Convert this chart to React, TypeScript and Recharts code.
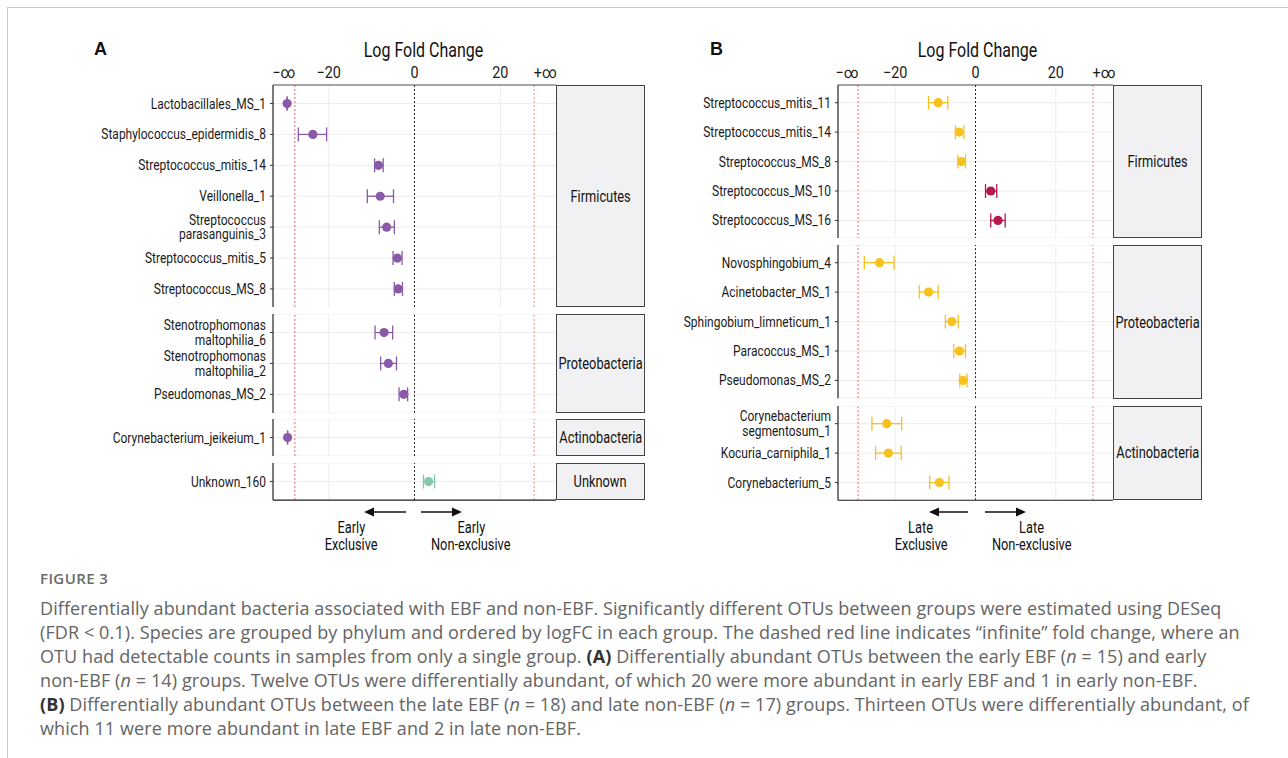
import React from 'react'
import {
  ScatterChart,
  Scatter,
  XAxis,
  YAxis,
  CartesianGrid,
  ReferenceLine,
  ErrorBar,
} from 'recharts'

// ---- Panel A: early EBF vs early non-EBF ----
const namesA = [
  'Lactobacillales_MS_1',
  'Staphylococcus_epidermidis_8',
  'Streptococcus_mitis_14',
  'Veillonella_1',
  'Streptococcus\nparasanguinis_3',
  'Streptococcus_mitis_5',
  'Streptococcus_MS_8',
  'Stenotrophomonas\nmaltophilia_6',
  'Stenotrophomonas\nmaltophilia_2',
  'Pseudomonas_MS_2',
  'Corynebacterium_jeikeium_1',
  'Unknown_160',
]
const phylaA = [
  'Firmicutes', 'Firmicutes', 'Firmicutes', 'Firmicutes', 'Firmicutes', 'Firmicutes', 'Firmicutes',
  'Proteobacteria', 'Proteobacteria', 'Proteobacteria',
  'Actinobacteria',
  'Unknown',
]
const lfcA = [-29.7, -23.7, -8.4, -8.0, -6.5, -4.0, -3.8, -7.1, -6.1, -2.5, -29.6, 3.3]
const lowA = [-29.7, -27.1, -9.3, -11.0, -8.2, -5.0, -4.7, -9.2, -7.9, -3.6, -29.6, 2.1]
const highA = [-29.7, -20.5, -7.3, -4.9, -4.7, -2.9, -2.8, -5.1, -4.2, -1.6, -29.6, 4.7]
const orderA = ['Firmicutes', 'Proteobacteria', 'Actinobacteria', 'Unknown']

// ---- Panel B: late EBF vs late non-EBF ----
const namesB = [
  'Streptococcus_mitis_11',
  'Streptococcus_mitis_14',
  'Streptococcus_MS_8',
  'Streptococcus_MS_10',
  'Streptococcus_MS_16',
  'Novosphingobium_4',
  'Acinetobacter_MS_1',
  'Sphingobium_limneticum_1',
  'Paracoccus_MS_1',
  'Pseudomonas_MS_2',
  'Corynebacterium\nsegmentosum_1',
  'Kocuria_carniphila_1',
  'Corynebacterium_5',
]
const phylaB = [
  'Firmicutes', 'Firmicutes', 'Firmicutes', 'Firmicutes', 'Firmicutes',
  'Proteobacteria', 'Proteobacteria', 'Proteobacteria', 'Proteobacteria', 'Proteobacteria',
  'Actinobacteria', 'Actinobacteria', 'Actinobacteria',
]
const lfcB = [-9.3, -4.1, -3.5, 3.8, 5.6, -23.9, -11.7, -5.9, -4.0, -3.1, -22.1, -21.7, -9.0]
const lowB = [-11.7, -5.0, -4.4, 2.5, 3.8, -27.7, -14.0, -7.5, -5.4, -3.9, -25.8, -24.9, -11.4]
const highB = [-6.9, -2.9, -2.5, 5.3, 7.4, -20.3, -9.3, -4.3, -2.5, -2.1, -18.4, -18.5, -6.6]
const orderB = ['Firmicutes', 'Proteobacteria', 'Actinobacteria']

const xTickLabels = ['\u2212\u221e', '\u221220', '0', '20', '+\u221e']

// no condensed face is installed, so Roboto is squeezed horizontally
const FONT = 'Roboto, "Liberation Sans", sans-serif'
const SQUEEZE = 0.8

type Row = { name: string; x: number; y: number; err: [number, number]; color: string }
type Facet = { phylum: string; rows: Row[] }

function buildFacets(
  names: string[], phyla: string[], lfc: number[], low: number[], high: number[],
  order: string[], neg: string, pos: string,
): Facet[] {
  return order.map((ph) => {
    const idx = names.map((_, i) => i).filter((i) => phyla[i] === ph)
    const rows = idx.map((i, k) => ({
      name: names[i],
      x: lfc[i],
      y: k,
      err: [lfc[i] - low[i], high[i] - lfc[i]] as [number, number],
      color: lfc[i] < 0 ? neg : pos,
    }))
    return { phylum: ph, rows }
  })
}

interface Panel {
  letter: string
  letterX: number
  chartLeft: number
  plotLeft: number
  plotRight: number
  stripRight: number
  half: number
  inf: number
  red: number
  unit: number
  gap: number
  titleDx: number
  facets: Facet[]
}

const panelA: Panel = {
  letter: 'A', letterX: 94, chartLeft: 70, plotLeft: 273, plotRight: 556, stripRight: 645,
  half: 33, inf: 30.5, red: 27.9, unit: 30.9, gap: 6.5, titleDx: 9,
  facets: buildFacets(namesA, phylaA, lfcA, lowA, highA, orderA, '#8a5aa8', '#84c9ac'),
}
const panelB: Panel = {
  letter: 'B', letterX: 710, chartLeft: 668, plotLeft: 838, plotRight: 1113, stripRight: 1202,
  half: 34.25, inf: 32, red: 29.25, unit: 29.45, gap: 7.3, titleDx: 2,
  facets: buildFacets(namesB, phylaB, lfcB, lowB, highB, orderB, '#f8c21e', '#b5184f'),
}

const PLOT_TOP = 85
const AXIS_H = 55
const RIGHT_PAD = 14

function RowTick(props: any) {
  const { x, y, payload, names } = props
  const label: string = names[payload.value] ?? ''
  const lines = label.split('\n')
  const step = 14.5
  const first = -((lines.length - 1) * step) / 2 + 5
  return (
    <g transform={`translate(${x},${y}) scale(0.857,1)`}>
      <text x={0} y={0} textAnchor="end" fontSize={14} fill="#1a1a1a" fontFamily={FONT}>
        {lines.map((l, i) => (
          <tspan key={i} x={0} dy={i === 0 ? first : step}>{l}</tspan>
        ))}
      </text>
    </g>
  )
}

function TopTick(props: any) {
  const { x, y, index } = props
  return (
    <g transform={`translate(${x},${y - 1}) scale(0.9,1)`}>
      <text x={0} y={0} textAnchor="middle" fontSize={16} fill="#1a1a1a" fontFamily={FONT}>
        {xTickLabels[index]}
      </text>
    </g>
  )
}

function TitleLabel(props: any) {
  const { viewBox, dx } = props
  const cx = viewBox.x + viewBox.width / 2 + dx
  return (
    <g transform={`translate(${cx},${viewBox.y + 27}) scale(${SQUEEZE},1)`}>
      <text x={0} y={0} textAnchor="middle" fontSize={20} fill="#111" fontFamily={FONT}>
        Log Fold Change
      </text>
    </g>
  )
}

function FacetChart({ panel, facet, top, height, first, last }: {
  panel: Panel; facet: Facet; top: number; height: number; first: boolean; last: boolean
}) {
  const n = facet.rows.length
  const axisH = first ? AXIS_H : 0
  const botH = last ? 2 : 0
  const colors = Array.from(new Set(facet.rows.map((r) => r.color)))
  const names = facet.rows.map((r) => r.name)
  const xTicks = [-panel.inf, -20, 0, 20, panel.inf]
  return (
    <div style={{ position: 'absolute', left: panel.chartLeft, top: top - axisH }}>
      <ScatterChart
        width={panel.plotRight - panel.chartLeft + RIGHT_PAD}
        height={height + axisH + botH}
        margin={{ top: 0, right: RIGHT_PAD, bottom: 0, left: 0 }}
      >
        <CartesianGrid vertical={false} stroke="#ededed" />
        {first ? (
          <XAxis
            type="number"
            dataKey="x"
            domain={[-panel.half, panel.half]}
            allowDataOverflow
            ticks={xTicks}
            interval={0}
            orientation="top"
            height={AXIS_H}
            tickSize={0}
            tickMargin={6}
            tickLine={false}
            axisLine={{ stroke: '#555', strokeWidth: 1.2 }}
            tick={<TopTick />}
            label={<TitleLabel dx={panel.titleDx} />}
          />
        ) : last ? (
          <XAxis
            type="number"
            dataKey="x"
            domain={[-panel.half, panel.half]}
            allowDataOverflow
            orientation="bottom"
            height={2}
            tick={false}
            tickLine={false}
            axisLine={{ stroke: '#222', strokeWidth: 1.2 }}
          />
        ) : (
          <XAxis type="number" dataKey="x" domain={[-panel.half, panel.half]} allowDataOverflow hide />
        )}
        <YAxis
          type="number"
          dataKey="y"
          domain={[-0.6, n - 0.4]}
          allowDataOverflow
          reversed
          ticks={facet.rows.map((r) => r.y)}
          interval={0}
          width={panel.plotLeft - panel.chartLeft}
          tickSize={3}
          tickMargin={4}
          tickLine={{ stroke: '#333' }}
          axisLine={{ stroke: '#222', strokeWidth: 1.2 }}
          tick={(p: any) => <RowTick {...p} names={names} />}
        />
        <ReferenceLine x={-20} stroke="#ededed" />
        <ReferenceLine x={20} stroke="#ededed" />
        <ReferenceLine x={0} stroke="#222" strokeDasharray="2 2" />
        <ReferenceLine x={-panel.red} stroke="#e56464" strokeDasharray="2 2" />
        <ReferenceLine x={panel.red} stroke="#e58a8a" strokeDasharray="2 2" />
        {colors.map((c) => (
          <Scatter
            key={c}
            data={facet.rows.filter((r) => r.color === c)}
            fill={c}
            isAnimationActive={false}
            shape={(p: any) => <circle cx={p.cx} cy={p.cy} r={4.6} fill={c} />}
          >
            <ErrorBar dataKey="err" direction="x" width={7} stroke={c} strokeWidth={1.3} />
          </Scatter>
        ))}
      </ScatterChart>
    </div>
  )
}

function Squeezed({ children, size }: { children: React.ReactNode; size: number }) {
  return (
    <span
      style={{
        display: 'inline-block', transform: `scaleX(${SQUEEZE})`, fontFamily: FONT, fontSize: size,
        whiteSpace: 'nowrap',
      }}
    >
      {children}
    </span>
  )
}

function PanelView({ panel }: { panel: Panel }) {
  let y = PLOT_TOP
  const items = panel.facets.map((f, i) => {
    const h = (f.rows.length - 1 + 1.2) * panel.unit
    const top = y
    y += h + panel.gap
    return { f, top, h, i }
  })
  return (
    <>
      <div
        style={{
          position: 'absolute', left: panel.letterX, top: 39, fontFamily: '"Liberation Sans", Arial, sans-serif',
          fontWeight: 700, fontSize: 18, color: '#111',
        }}
      >
        {panel.letter}
      </div>
      {items.map(({ f, top, h, i }) => (
        <React.Fragment key={f.phylum}>
          <FacetChart
            panel={panel}
            facet={f}
            top={top}
            height={h}
            first={i === 0}
            last={i === items.length - 1}
          />
          <div
            style={{
              position: 'absolute',
              left: panel.plotRight,
              top,
              width: panel.stripRight - panel.plotRight,
              height: h,
              boxSizing: 'border-box',
              border: '1.3px solid #444',
              background: '#f1f1f3',
              display: 'flex',
              alignItems: 'center',
              justifyContent: 'center',
              color: '#111',
            }}
          >
            <Squeezed size={16}>{f.phylum}</Squeezed>
          </div>
        </React.Fragment>
      ))}
    </>
  )
}

function Arrows({ cx, leftEnd, rightEnd, gapL, gapR, word, textL, textR }: {
  cx: number; leftEnd: number; rightEnd: number; gapL: number; gapR: number; word: string; textL: number; textR: number
}) {
  const ay = 512
  return (
    <>
      <svg style={{ position: 'absolute', left: 0, top: 0 }} width={1288} height={758} pointerEvents="none">
        <line x1={cx - gapL} y1={ay} x2={leftEnd + 8} y2={ay} stroke="#111" strokeWidth={1.5} />
        <polygon points={`${leftEnd},${ay} ${leftEnd + 10},${ay - 4.5} ${leftEnd + 10},${ay + 4.5}`} fill="#111" />
        <line x1={cx + gapR} y1={ay} x2={rightEnd - 8} y2={ay} stroke="#111" strokeWidth={1.5} />
        <polygon points={`${rightEnd},${ay} ${rightEnd - 10},${ay - 4.5} ${rightEnd - 10},${ay + 4.5}`} fill="#111" />
      </svg>
      {[
        { x: textL, lines: [word, 'Exclusive'] },
        { x: textR, lines: [word, 'Non-exclusive'] },
      ].map((t) => (
        <div
          key={t.x}
          style={{
            position: 'absolute', left: t.x - 60, width: 120, top: 519, textAlign: 'center',
            lineHeight: '17px', color: '#111',
          }}
        >
          <Squeezed size={16}>{t.lines[0]}</Squeezed>
          <br />
          <Squeezed size={16}>{t.lines[1]}</Squeezed>
        </div>
      ))}
    </>
  )
}

const captionLines: React.ReactNode[] = [
  'Differentially abundant bacteria associated with EBF and non-EBF. Significantly different OTUs between groups were estimated using DESeq',
  '(FDR < 0.1). Species are grouped by phylum and ordered by logFC in each group. The dashed red line indicates \u201cinfinite\u201d fold change, where an',
  <>OTU had detectable counts in samples from only a single group. <b style={{ color: '#333' }}>(A)</b> Differentially abundant OTUs between the early EBF (<i>n</i> = 15) and early</>,
  <>non-EBF (<i>n</i> = 14) groups. Twelve OTUs were differentially abundant, of which 20 were more abundant in early EBF and 1 in early non-EBF.</>,
  <><b style={{ color: '#333' }}>(B)</b> Differentially abundant OTUs between the late EBF (<i>n</i> = 18) and late non-EBF (<i>n</i> = 17) groups. Thirteen OTUs were differentially abundant, of</>,
  'which 11 were more abundant in late EBF and 2 in late non-EBF.',
]

export default function App() {
  return (
    <div
      style={{
        position: 'absolute', left: 0, top: 0, width: 1288, height: 758, background: '#fff', overflow: 'hidden',
      }}
    >
      {/* frame */}
      <div style={{ position: 'absolute', left: 7, top: 7, width: 1290, height: 760, borderTop: '1.5px solid #c9c9c9', borderLeft: '1.5px solid #c9c9c9' }} />

      <PanelView panel={panelA} />
      <PanelView panel={panelB} />

      <Arrows cx={414} leftEnd={364} rightEnd={462} gapL={8} gapR={7} word="Early" textL={351} textR={471} />
      <Arrows cx={976} leftEnd={929} rightEnd={1026} gapL={8} gapR={9} word="Late" textL={921} textR={1032} />

      {/* caption */}
      <div
        style={{
          position: 'absolute', left: 40, top: 568, fontFamily: '"Open Sans", Lato, sans-serif', fontSize: 15,
          fontWeight: 600, color: '#6a6a6a', letterSpacing: 0.4,
        }}
      >
        FIGURE 3
      </div>
      <div
        style={{
          position: 'absolute', left: 40, top: 596, fontFamily: '"Open Sans", Lato, sans-serif', fontSize: 18,
          lineHeight: '24px', color: '#646464', whiteSpace: 'nowrap', letterSpacing: 0.1,
        }}
      >
        {captionLines.map((l, i) => (
          <div key={i}>{l}</div>
        ))}
      </div>
    </div>
  )
}
